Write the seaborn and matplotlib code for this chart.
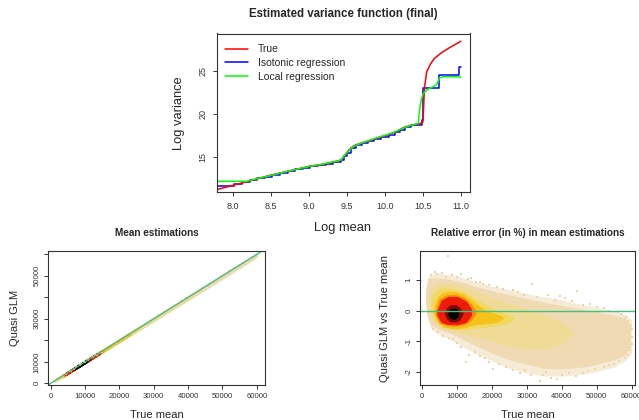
import numpy as np
import pandas as pd
import matplotlib
matplotlib.use("Agg")
import matplotlib.pyplot as plt
from matplotlib.lines import Line2D
import seaborn as sns

# ---------------- data: top panel (log mean vs log variance) ----------------
true_x = [7.80, 8.00, 8.25, 8.50, 8.75, 9.00, 9.15, 9.30, 9.42, 9.47, 9.53, 9.59, 9.65,
          9.76, 9.90, 10.03, 10.15, 10.24, 10.35, 10.46, 10.50, 10.51, 10.52, 10.55,
          10.60, 10.65, 10.75, 10.85, 10.95, 11.00]
true_y = [11.24, 11.70, 12.30, 12.90, 13.40, 13.90, 14.10, 14.38, 14.62, 15.20, 15.85,
          16.30, 16.50, 16.80, 17.20, 17.55, 17.95, 18.40, 18.70, 18.88, 19.05, 20.8,
          23.0, 24.9, 25.8, 26.45, 27.15, 27.7, 28.2, 28.45]

iso_x = [7.80, 8.01, 8.12, 8.22, 8.32, 8.42, 8.52, 8.62, 8.72, 8.82, 8.92, 9.02, 9.12,
         9.22, 9.32, 9.42, 9.46, 9.50, 9.55, 9.62, 9.70, 9.78, 9.86, 9.95, 10.05, 10.13,
         10.20, 10.27, 10.35, 10.49, 10.50, 10.71, 10.98, 11.00]
iso_y = [11.60, 11.85, 12.05, 12.28, 12.50, 12.72, 12.95, 13.15, 13.35, 13.55, 13.75,
         13.92, 14.05, 14.22, 14.42, 14.62, 15.10, 15.50, 16.00, 16.40, 16.62, 16.85,
         17.08, 17.32, 17.60, 17.85, 18.15, 18.45, 18.75, 19.30, 23.05, 24.50, 25.50,
         25.50]

loc_x = [7.79, 8.18, 8.30, 8.50, 8.75, 9.00, 9.20, 9.38, 9.42, 9.50, 9.58, 9.70, 9.90,
         10.10, 10.25, 10.35, 10.44, 10.45, 10.47, 10.50, 10.55, 10.62, 10.68, 10.72,
         10.77, 11.00]
loc_y = [12.17, 12.17, 12.45, 12.85, 13.40, 13.90, 14.20, 14.55, 14.65, 15.50, 16.20,
         16.65, 17.25, 17.80, 18.40, 18.70, 18.90, 20.0, 21.3, 22.3, 22.8, 23.1, 23.4,
         24.2, 24.35, 24.3]

# ---------------- data: relative error cloud (true mean vs error in %) ----------------
# outer fringe of sparse points
fringe_x = [1000, 1500, 2500, 5000, 8000, 11000, 15000, 20000, 25000, 30000, 35000,
            40000, 45000, 50000, 55000, 58000, 60000]
fringe_lo = [0.10, -0.30, -0.60, -0.80, -0.95, -1.15, -1.40, -1.65, -1.90, -2.05, -2.15,
             -2.15, -2.10, -2.00, -1.85, -1.65, -1.40]
fringe_hi = [0.75, 1.05, 1.20, 1.22, 1.15, 1.10, 0.95, 0.80, 0.68, 0.55, 0.45, 0.35,
             0.22, 0.10, -0.02, -0.12, -0.30]

# density levels, from sparse (wheat) to the dense core (black): x, lower, upper
lev0_x = [1100, 1500, 2500, 5000, 8000, 11000, 15000, 20000, 25000, 30000, 35000,
          40000, 45000, 50000, 55000, 58000, 59500]
lev0_lo = [0.20, -0.15, -0.45, -0.62, -0.72, -0.90, -1.12, -1.38, -1.60, -1.75, -1.88,
           -1.90, -1.85, -1.75, -1.60, -1.45, -1.20]
lev0_hi = [0.65, 0.90, 1.05, 1.05, 1.00, 0.93, 0.78, 0.63, 0.50, 0.38, 0.25, 0.15,
           0.05, -0.05, -0.17, -0.25, -0.45]

lev1_x = [2000, 3000, 5000, 10000, 15000, 20000, 25000, 30000, 35000, 40000, 43000]
lev1_lo = [0.05, -0.30, -0.55, -0.70, -0.85, -1.00, -1.15, -1.25, -1.25, -1.10, -0.80]
lev1_hi = [0.45, 0.75, 0.88, 0.85, 0.62, 0.40, 0.22, 0.05, -0.15, -0.40, -0.70]

lev2_x = [2500, 3500, 5000, 8000, 12000, 16000, 20000, 24000, 26000]
lev2_lo = [0.00, -0.30, -0.50, -0.60, -0.62, -0.55, -0.50, -0.42, -0.30]
lev2_hi = [0.30, 0.60, 0.72, 0.72, 0.60, 0.30, 0.05, -0.12, -0.25]

lev3_x = [3500, 4500, 6000, 9000, 12000, 15000, 18000, 21000, 23000]
lev3_lo = [-0.10, -0.35, -0.52, -0.58, -0.55, -0.45, -0.42, -0.38, -0.28]
lev3_hi = [0.15, 0.45, 0.58, 0.62, 0.52, 0.25, 0.00, -0.12, -0.20]

lev4_x = [3800, 5000, 7000, 9500, 12000, 14000, 15200]
lev4_lo = [-0.15, -0.40, -0.48, -0.50, -0.45, -0.30, -0.12]
lev4_hi = [0.00, 0.38, 0.50, 0.52, 0.42, 0.20, 0.00]

lev5_x = [4300, 5500, 7500, 10000, 12500, 14000]
lev5_lo = [-0.15, -0.38, -0.45, -0.45, -0.38, -0.15]
lev5_hi = [0.00, 0.33, 0.45, 0.45, 0.30, 0.05]

lev6_x = [6500, 7200, 8200, 9500, 10600, 11500]
lev6_lo = [-0.12, -0.28, -0.36, -0.36, -0.30, -0.12]
lev6_hi = [-0.06, 0.10, 0.18, 0.18, 0.10, -0.06]

lev7_x = [7400, 7800, 8500, 9200, 9900, 10300]
lev7_lo = [-0.12, -0.22, -0.27, -0.27, -0.22, -0.12]
lev7_hi = [-0.08, 0.02, 0.06, 0.06, 0.02, -0.08]

# isolated points at the edge of the cloud
out_x = [2500, 3500, 4200, 5500, 6800, 7450, 8500, 9800, 11000, 13000, 15500, 17500,
         21500, 31300, 26000, 36000, 44200, 41000, 48000, 52000, 56000, 58500,
         3000, 6000, 8900, 12400, 11000, 15000, 20350, 18000, 24000, 28000, 33700,
         31000, 37000, 40000, 44000, 47500, 52000, 55000, 58000, 59500, 60000, 59000,
         19000, 23000, 27500, 29000, 33000, 38000, 39500, 43000, 46000, 50000, 53500,
         57000, 59800, 1800, 1300, 14000, 16500,
         4500, 7500, 10000, 13500, 16500, 19000, 22000, 26000, 29500, 34500, 35500,
         38500, 42000, 46000, 49500, 53500, 56500, 59000, 60000, 60000]
out_y = [1.15, 1.25, 1.20, 1.22, 1.10, 1.80, 1.18, 1.10, 1.20, 1.02, 0.95, 0.88,
         0.78, 0.87, 0.68, 0.52, 0.63, 0.42, 0.22, 0.08, -0.05, -0.20,
         -0.60, -0.85, -0.93, -1.69, -1.20, -1.35, -1.93, -1.55, -1.85, -2.05, -2.32,
         -2.10, -2.20, -2.12, -2.15, -1.98, -1.85, -1.75, -1.55, -1.30, -0.87, -0.33,
         0.85, 0.72, 0.62, 0.50, 0.45, 0.35, 0.48, 0.30, 0.18, 0.12, 0.00,
         -0.10, -0.50, 1.00, 0.60, 1.05, 0.92,
         -0.70, -0.90, -1.05, -1.45, -1.50, -1.70, -1.75, -1.95, -1.95, -2.10, -2.00,
         -2.25, -2.05, -2.05, -1.90, -1.80, -1.65, -1.45, -1.10, -0.60]

levels = [(lev0_x, lev0_lo, lev0_hi), (lev1_x, lev1_lo, lev1_hi),
          (lev2_x, lev2_lo, lev2_hi), (lev3_x, lev3_lo, lev3_hi),
          (lev4_x, lev4_lo, lev4_hi), (lev5_x, lev5_lo, lev5_hi),
          (lev6_x, lev6_lo, lev6_hi), (lev7_x, lev7_lo, lev7_hi)]
level_colors = ["#F0DAB4", "#F0DB96", "#F2D85E", "#F5C21A", "#F98A0C", "#EE1B0B",
                "#7A0A05", "#000000"]
wheat = "#EDD3A8"

# ---------------- figure ----------------
sns.set_theme(style="ticks")
plt.rcParams['font.family'] = ['Liberation Sans', 'DejaVu Sans']
plt.rcParams['axes.unicode_minus'] = False

W, H = 639, 420
fig = plt.figure(figsize=(W / 100, H / 100), dpi=100)


def px_axes(left, top, right, bottom):
    return fig.add_axes([left / W, 1 - bottom / H, (right - left) / W, (bottom - top) / H])


def style_axes(ax, tick_size):
    for s in ax.spines.values():
        s.set_color("#333333")
        s.set_linewidth(0.8)
    ax.tick_params(axis="both", direction="out", length=3, width=0.7, pad=2.5,
                   colors="#333333", labelsize=tick_size)
    plt.setp(ax.get_yticklabels(), rotation=90, va="center")


def ftext(x, y, s, **kw):
    fig.text(x / W, 1 - y / H, s, ha="center", va="center", **kw)


# top panel
ax1 = px_axes(217, 33.5, 470, 192)
sns.lineplot(x=iso_x, y=iso_y, ax=ax1, color="#0000FF", lw=1.1, sort=False,
             estimator=None, drawstyle="steps-post")
sns.lineplot(x=true_x, y=true_y, ax=ax1, color="#FF0000", lw=1.1, sort=False,
             estimator=None)
sns.lineplot(x=loc_x, y=loc_y, ax=ax1, color="#00FF00", lw=1.1, sort=False,
             estimator=None)
ax1.set_xlim(7.79, 11.12)
ax1.set_ylim(10.93, 29.35)
ax1.set_xticks([8.0, 8.5, 9.0, 9.5, 10.0, 10.5, 11.0])
ax1.set_xticklabels(["8.0", "8.5", "9.0", "9.5", "10.0", "10.5", "11.0"])
ax1.set_yticks([15, 20, 25])
ax1.set_xlabel("")
ax1.set_ylabel("")
style_axes(ax1, 6.5)
ax1.tick_params(pad=4)
handles = [Line2D([], [], color=c, lw=1.1) for c in ["#FF0000", "#0000FF", "#00FF00"]]
ax1.legend(handles, ["True", "Isotonic regression", "Local regression"],
           loc="upper left", frameon=False, fontsize=7.5, handlelength=2.2,
           handletextpad=0.9, labelspacing=0.35, borderaxespad=0.4,
           bbox_to_anchor=(0.0, 0.985))
ftext(343, 14, "Estimated variance function (final)", fontsize=8.3, fontweight="bold")
ftext(343, 228, "Log mean", fontsize=9.3)
ftext(179, 113, "Log variance", fontsize=9.3, rotation=90)

# bottom-left panel: quasi GLM vs true mean
ax2 = px_axes(48.3, 250.7, 265, 385)
for (lx, llo, lhi), col in zip(levels, level_colors):
    lx = np.array(lx, dtype=float)
    ax2.fill_between(lx, lx * (1 + np.array(llo) / 100), lx * (1 + np.array(lhi) / 100),
                     color=col, lw=2.2, edgecolor=col)
ox = np.array(out_x, dtype=float)
sns.scatterplot(x=ox, y=ox * (1 + np.array(out_y) / 100), ax=ax2, color=wheat,
                s=4, marker="s", linewidth=0)
ax2.axline((0, 0), slope=1, color="#43C07E", lw=1.0)
ax2.set_xlim(-700, 62400)
ax2.set_ylim(-770, 61700)
ax2.set_xticks(range(0, 60001, 10000))
ax2.set_yticks(range(0, 60001, 10000))
ax2.set_yticklabels(["0", "10000", "", "30000", "", "50000", ""])
style_axes(ax2, 5.6)
ftext(156.7, 232.5, "Mean estimations", fontsize=7.2, fontweight="bold")
ftext(156.7, 415, "True mean", fontsize=8)
ftext(15, 318, "Quasi GLM", fontsize=8, rotation=90)

# bottom-right panel: relative error
ax3 = px_axes(420, 250.7, 635, 385)
ax3.fill_between(fringe_x, fringe_lo, fringe_hi, color=wheat, alpha=0.45, lw=0)
sns.scatterplot(x=out_x, y=out_y, ax=ax3, color=wheat, s=3.5, marker="s",
                linewidth=0)
for (lx, llo, lhi), col in zip(levels, level_colors):
    ax3.fill_between(lx, llo, lhi, color=col, lw=0.6, edgecolor=col)
ax3.axhline(0, color="#43C07E", lw=1.0)
ax3.set_xlim(-670, 60950)
ax3.set_ylim(-2.44, 1.96)
ax3.set_xticks(range(0, 60001, 10000))
ax3.set_yticks([-2, -1, 0, 1])
style_axes(ax3, 5.6)
ftext(527.5, 232.5, "Relative error (in %) in mean estimations", fontsize=7.2,
      fontweight="bold")
ftext(527.5, 415, "True mean", fontsize=8)
ftext(385, 318, "Quasi GLM vs True mean", fontsize=8, rotation=90)

fig.savefig("out.png", dpi=100)
